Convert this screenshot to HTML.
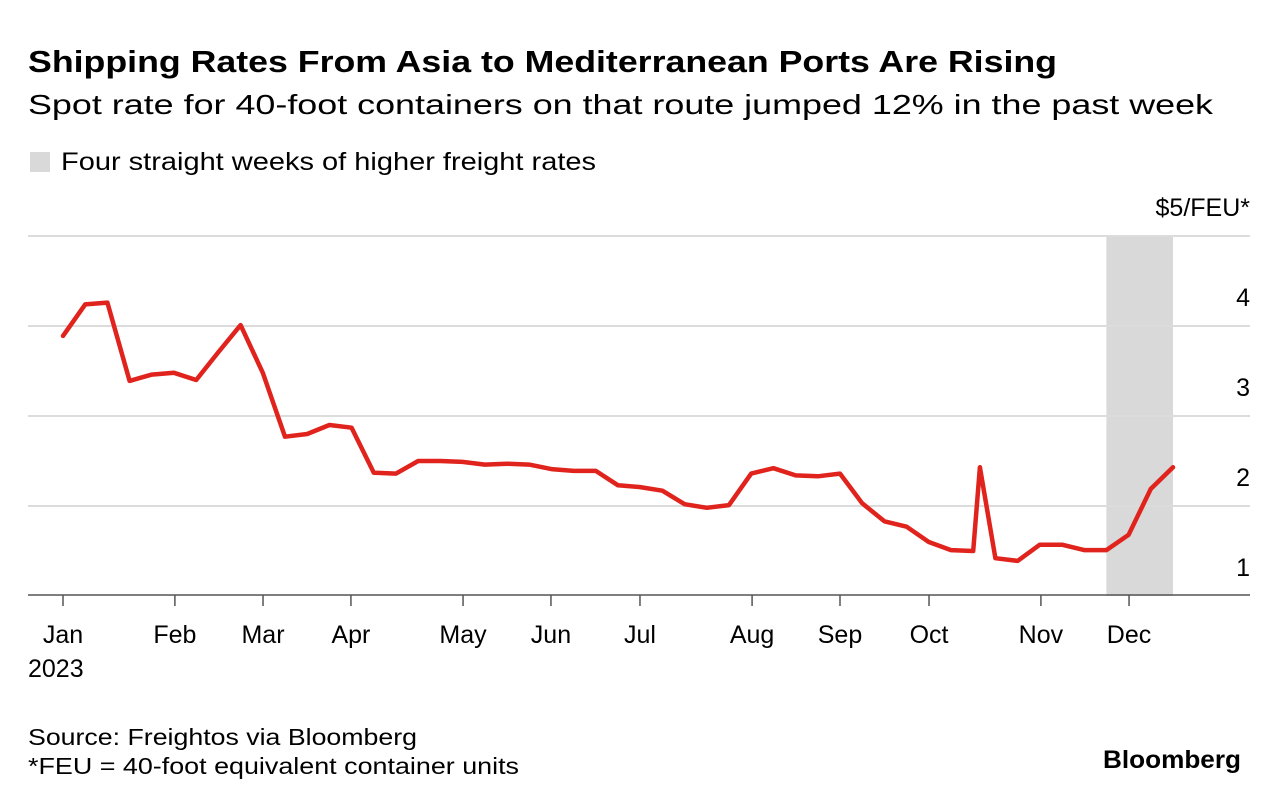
<!DOCTYPE html>
<html><head><meta charset="utf-8"><style>
body{margin:0;background:#fff;font-family:"Liberation Sans",sans-serif;}
svg text{font-family:"Liberation Sans",sans-serif;}
</style></head><body>
<svg id="chart" width="1280" height="804">
<text x="28" y="72" font-size="31" font-weight="bold" fill="#000" textLength="1029" lengthAdjust="spacingAndGlyphs">Shipping Rates From Asia to Mediterranean Ports Are Rising</text>
<text x="28" y="114" font-size="28" fill="#000" textLength="1185" lengthAdjust="spacingAndGlyphs">Spot rate for 40-foot containers on that route jumped 12% in the past week</text>
<rect x="30" y="152" width="20" height="20" fill="#d9d9d9"/>
<text x="61" y="170" font-size="25" fill="#000" textLength="535" lengthAdjust="spacingAndGlyphs">Four straight weeks of higher freight rates</text>
<g id="plot"></g>
<text x="28" y="745" font-size="23" fill="#000" textLength="389" lengthAdjust="spacingAndGlyphs">Source: Freightos via Bloomberg</text>
<text x="28" y="774" font-size="23" fill="#000" textLength="491" lengthAdjust="spacingAndGlyphs">*FEU = 40-foot equivalent container units</text>
<text x="1103" y="768" font-size="25" font-weight="bold" fill="#000" textLength="138" lengthAdjust="spacingAndGlyphs">Bloomberg</text>
</svg>
<script>
const weeks=[0,1,2,3,4,5,6,7,8,9,10,11,12,13,14,15,16,17,18,19,20,21,22,23,24,25,26,27,28,29,30,31,32,33,34,35,36,37,38,39,40,41,41.3,42,43,44,45,46,47,48,49,50];
const rates=[3.89,4.24,4.26,3.39,3.46,3.48,3.40,3.71,4.01,3.48,2.77,2.80,2.90,2.87,2.37,2.36,2.50,2.50,2.49,2.46,2.47,2.46,2.41,2.39,2.39,2.23,2.21,2.17,2.02,1.98,2.01,2.36,2.42,2.34,2.33,2.36,2.03,1.83,1.77,1.60,1.51,1.50,2.43,1.42,1.39,1.57,1.57,1.51,1.51,1.68,2.19,2.43];
const monthLabels=["Jan","Feb","Mar","Apr","May","Jun","Jul","Aug","Sep","Oct","Nov","Dec"];
const monthWeeks=[0,5.04,9.01,12.97,18.02,21.98,25.99,31.04,35.0,39.01,44.05,48.02];
const yTicks=[1,2,3,4,5];
const yTickLabels=["1","2","3","4","$5/FEU*"];
const shadeStart=47, shadeEnd=50;
const X=w=>63+w*22.2;
const Y=v=>596-(v-1)*90;
const NS="http://www.w3.org/2000/svg";
const g=document.getElementById('plot');
function mk(t,a){const e=document.createElementNS(NS,t);for(const k in a)e.setAttribute(k,a[k]);g.appendChild(e);return e;}
let band=mk('rect',{x:X(shadeStart),y:Y(5),width:X(shadeEnd)-X(shadeStart),height:Y(1)-Y(5),fill:'#d9d9d9'});


yTicks.forEach((v,i)=>{
 if(v>1){let l=mk('line',{x1:28,x2:1250,y1:Y(v),y2:Y(v),stroke:'#dcdcdc','stroke-width':2});
 
 }
 let t=mk('text',{x:1250,y:Y(v)-20,'font-size':25,'text-anchor':'end',fill:'#000'});
 t.textContent=yTickLabels[i];
 
 
});
let ax=mk('line',{x1:28,x2:1250,y1:595,y2:595,stroke:'#555','stroke-width':1.5});


monthLabels.forEach((m,i)=>{
 const x=X(monthWeeks[i]);
 let tk=mk('line',{x1:x,x2:x,y1:595,y2:606,stroke:'#555','stroke-width':1.5});
 
 
 let t=mk('text',{x:x,y:643,'font-size':25,'text-anchor':'middle',fill:'#000'});
 t.textContent=m;
 
 
});
let yr=mk('text',{x:28,y:677,'font-size':25,fill:'#000'});yr.textContent='2023';


let d=weeks.map((w,i)=>(i?'L':'M')+X(w).toFixed(1)+','+Y(rates[i]).toFixed(1)).join(' ');
let p=mk('path',{d:d,fill:'none',stroke:'#e0231c','stroke-width':4.5,'stroke-linejoin':'round','stroke-linecap':'round'});


</script>
</body></html>
